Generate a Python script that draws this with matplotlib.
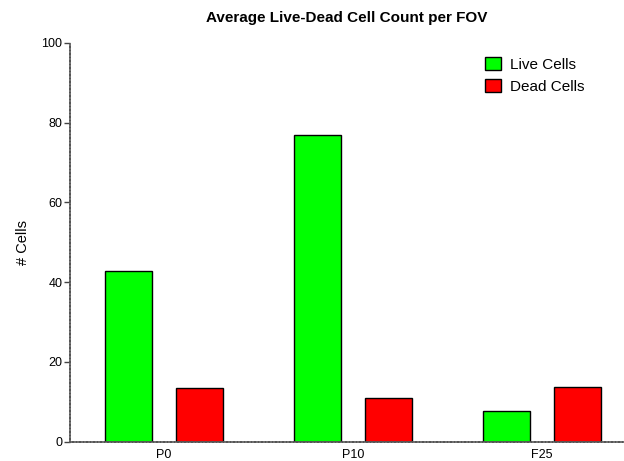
import matplotlib.pyplot as plt
import numpy as np

plt.rcParams.update({"font.family": ["Liberation Sans", "DejaVu Sans"], "font.size": 9})

# average counts per field of view
groups = ["P0", "P10", "F25"]
live = [42.7, 77.0, 7.7]
dead = [13.4, 10.9, 13.6]

x = np.arange(len(groups))
width = 0.249
offset = 0.188

fig = plt.figure(figsize=(6.24, 4.61), dpi=100)
ax = fig.add_axes([69.5 / 624, 1 - 441.7 / 461, 1 - 69.5 / 624, (441.7 - 43) / 461])

ax.bar(x - offset, live, width, color="#00ff00", edgecolor="black", linewidth=1, label="Live Cells")
ax.bar(x + offset, dead, width, color="#ff0000", edgecolor="black", linewidth=1, label="Dead Cells")

ax.set_xlim(-0.5, (624 - 69.5) / 189 - 0.5)
ax.set_ylim(0, 100)
ax.set_yticks([0, 20, 40, 60, 80, 100])
ax.set_xticks(x)
ax.set_xticklabels(groups)
ax.tick_params(axis="x", length=0, pad=5, labelsize=9)
ax.tick_params(axis="y", length=4, width=1, color="#444444", pad=1, labelsize=9)

for side in ["top", "right"]:
    ax.spines[side].set_visible(False)
for side in ["left", "bottom"]:
    ax.spines[side].set_color("#555555")
    ax.spines[side].set_linewidth(1.2)
    ax.spines[side].set_linestyle((0, (1.5, 0.6)))

ax.set_ylabel("# Cells", fontsize=10.5, labelpad=8)
ax.set_title("Average Live-Dead Cell Count per FOV", fontsize=11, fontweight="bold", pad=15)

ax.legend(loc="upper right", bbox_to_anchor=(0.953, 1.0), frameon=False, fontsize=11,
          handlelength=1.0, handleheight=1.0, handletextpad=0.6, labelspacing=0.45)

plt.savefig("out.png", dpi=100)
